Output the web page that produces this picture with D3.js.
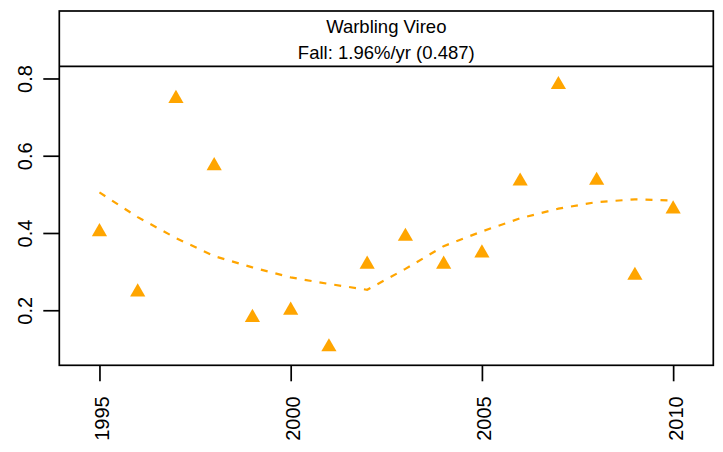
<!DOCTYPE html>
<html>
<head>
<meta charset="utf-8">
<script src="https://cdn.jsdelivr.net/npm/d3@7"></script>
<style>
  html, body { margin: 0; padding: 0; background: #fff; }
  svg { display: block; font-family: "Liberation Sans", Arial, Helvetica, sans-serif; }
</style>
</head>
<body>
<svg id="chart" width="723" height="452"></svg>
<script>
// Annual index for Warbling Vireo, fall migration
const years = [1995, 1996, 1997, 1998, 1999, 2000, 2001, 2002,
               2003, 2004, 2005, 2006, 2007, 2008, 2009, 2010];
const observed = [0.403, 0.247, 0.748, 0.574, 0.181, 0.200, 0.105, 0.319,
                  0.391, 0.319, 0.348, 0.534, 0.784, 0.536, 0.290, 0.462];
const smoothed = [0.505, 0.441, 0.387, 0.340, 0.311, 0.285, 0.268, 0.253,
                  0.307, 0.366, 0.404, 0.438, 0.463, 0.480, 0.487, 0.484];
const xTicks = [1995, 2000, 2005, 2010];
const yTicks = [0.2, 0.4, 0.6, 0.8];
const stripLines = ["Warbling Vireo", "Fall: 1.96%/yr (0.487)"];

const svg = d3.select("#chart");
const orange = "#FFA500";

// frame geometry
const frameLeft = 59.3, frameRight = 713.3, frameTop = 11, stripBottom = 66.3, frameBottom = 365.3;

// lattice-style 7% padding around the data range
function padded(ext) {
  const p = (ext[1] - ext[0]) * 0.07;
  return [ext[0] - p, ext[1] + p];
}
const x = d3.scaleLinear().domain(padded(d3.extent(years))).range([frameLeft, frameRight]);
const y = d3.scaleLinear().domain(padded(d3.extent(observed))).range([frameBottom, stripBottom]);

// strip with title lines
const strip = svg.append("g");
strip.append("text")
  .attr("x", (frameLeft + frameRight) / 2).attr("y", 33)
  .attr("text-anchor", "middle").attr("font-size", 18.5).attr("fill", "#000")
  .text(stripLines[0]);
strip.append("text")
  .attr("x", (frameLeft + frameRight) / 2).attr("y", 59.3)
  .attr("text-anchor", "middle").attr("font-size", 18.5).attr("fill", "#000")
  .text(stripLines[1]);

// smoothed trend, dashed
const line = d3.line()
  .x((d, i) => x(years[i]))
  .y(d => y(d));
svg.append("path")
  .datum(smoothed)
  .attr("d", line)
  .attr("fill", "none")
  .attr("stroke", orange)
  .attr("stroke-width", 2.2)
  .attr("stroke-dasharray", "7,8");

// observed yearly values as filled triangles
svg.append("g").selectAll("path")
  .data(observed)
  .join("path")
  .attr("transform", (d, i) => `translate(${x(years[i])},${y(d)})`)
  .attr("d", d3.symbol(d3.symbolTriangle).size(100))
  .attr("fill", orange);

// y axis
const yAxis = svg.append("g")
  .attr("transform", `translate(${frameLeft},0)`)
  .call(d3.axisLeft(y).tickValues(yTicks).tickSize(16).tickSizeOuter(0)
        .tickFormat(d3.format(".1f")));
yAxis.select(".domain").remove();
yAxis.selectAll(".tick line").attr("stroke", "#000").attr("stroke-width", 1.7);
yAxis.selectAll(".tick text")
  .attr("x", null).attr("dy", null)
  .attr("transform", "translate(-27.6,0) rotate(-90)")
  .attr("text-anchor", "middle")
  .attr("font-size", 20).attr("fill", "#000");

// x axis
const xAxis = svg.append("g")
  .attr("transform", `translate(0,${frameBottom})`)
  .call(d3.axisBottom(x).tickValues(xTicks).tickSize(16).tickSizeOuter(0)
        .tickFormat(d3.format("d")));
xAxis.select(".domain").remove();
xAxis.selectAll(".tick line").attr("stroke", "#000").attr("stroke-width", 1.7);
xAxis.selectAll(".tick text")
  .attr("y", null).attr("dy", null)
  .attr("transform", "translate(9,31) rotate(-90)")
  .attr("text-anchor", "end")
  .attr("font-size", 20).attr("fill", "#000");

// panel frame and strip divider
svg.append("rect")
  .attr("x", frameLeft).attr("y", frameTop)
  .attr("width", frameRight - frameLeft).attr("height", frameBottom - frameTop)
  .attr("fill", "none").attr("stroke", "#000").attr("stroke-width", 1.7);
svg.append("line")
  .attr("x1", frameLeft).attr("x2", frameRight)
  .attr("y1", stripBottom).attr("y2", stripBottom)
  .attr("stroke", "#000").attr("stroke-width", 1.7);
</script>
</body>
</html>
